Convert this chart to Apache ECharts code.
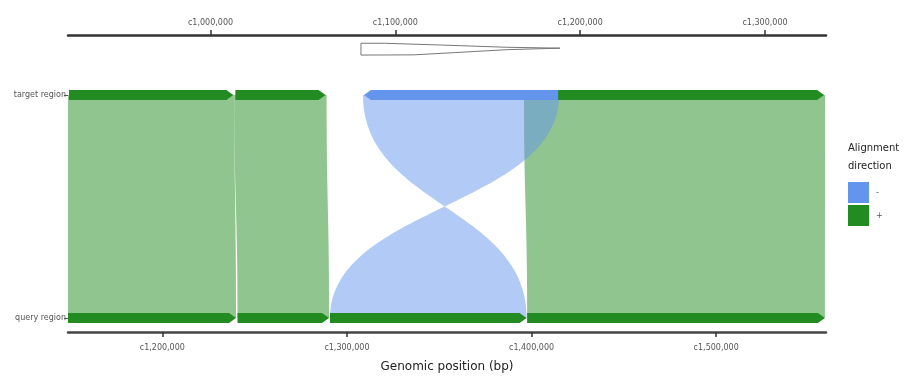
<!DOCTYPE html>
<html>
<head>
<meta charset="utf-8">
<script src="https://cdn.jsdelivr.net/npm/echarts@6/dist/echarts.min.js"></script>
<style>
  html, body { margin: 0; padding: 0; background: #fff; }
  #chart { width: 915px; height: 376px; }
</style>
</head>
<body>
<div id="chart"></div>
<script>
// Alignment blocks between the target and the query region (bp)
const alignTargetStart = [922900, 1012900, 1082500, 1169600];
const alignTargetEnd   = [1012900, 1062800, 1188600, 1332500];
const alignQueryStart  = [1148900, 1240700, 1290800, 1397600];
const alignQueryEnd    = [1239900, 1290300, 1397300, 1558900];
const alignDirection   = ['+', '+', '-', '+'];

// Axis extents and tick positions (bp)
const targetRange = [922900, 1333000];
const queryRange  = [1148900, 1559500];
const targetTicks = [1000000, 1100000, 1200000, 1300000];
const queryTicks  = [1200000, 1300000, 1400000, 1500000];

// Track rows: 0 = query, 1 = target
const rowNames = ['query region', 'target region'];
const directions = ['-', '+'];

// Outline of the inverted-segment glyph above the target track: [bp, track level]
const glyphOutline = [
  [1081400, 1.232], [1094000, 1.232], [1125000, 1.224], [1160000, 1.214],
  [1189100, 1.210], [1160000, 1.203], [1132000, 1.190], [1110000, 1.180],
  [1081400, 1.179]
];

const COLORS = { '+': '#228B22', '-': '#6495ED' };

const chart = echarts.init(document.getElementById('chart'), null, { renderer: 'canvas' });

function fmtBp(v) {
  return 'c' + String(Math.round(v)).replace(/\B(?=(\d{3})+(?!\d))/g, ',');
}

// Map a query coordinate onto the shared horizontal pixel scale of the top axis
function queryAsTarget(q) {
  return targetRange[0] + (q - queryRange[0]) * (targetRange[1] - targetRange[0]) / (queryRange[1] - queryRange[0]);
}

function sCurve(x0, y0, x1, y1, n) {
  const pts = [];
  const ym = (y0 + y1) / 2;
  for (let i = 0; i <= n; i++) {
    const s = i / n, u = 1 - s;
    const a = u * u * u, b = 3 * u * u * s, c = 3 * u * s * s, d = s * s * s;
    pts.push([a * x0 + b * x0 + c * x1 + d * x1, a * y0 + b * ym + c * ym + d * y1]);
  }
  return pts;
}

function alignRows(dir) {
  const rows = [];
  for (let i = 0; i < alignDirection.length; i++) {
    if (alignDirection[i] === dir) {
      rows.push([alignTargetStart[i], alignTargetEnd[i], alignQueryStart[i], alignQueryEnd[i], 1]);
    }
  }
  return rows;
}

function ribbonSeries(dir) {
  return {
    type: 'custom',
    name: dir,
    xAxisIndex: 0,
    yAxisIndex: 0,
    itemStyle: { color: COLORS[dir] },
    encode: { x: [0, 1, 2, 3], y: 4 },
    data: alignRows(dir),
    clip: false,
    renderItem: function (params, api) {
      const tS = api.value(0), tE = api.value(1), qS = api.value(2), qE = api.value(3);
      const T0 = api.coord([tS, 1]), T1 = api.coord([tE, 1]);
      const Q0 = api.coord([queryAsTarget(qS), 0]), Q1 = api.coord([queryAsTarget(qE), 0]);
      let right, left;
      if (dir === '+') {
        right = sCurve(T1[0], T1[1], Q1[0], Q1[1], 60);
        left = sCurve(Q0[0], Q0[1], T0[0], T0[1], 60);
      } else {
        right = sCurve(T1[0], T1[1], Q0[0], Q0[1], 60);
        left = sCurve(Q1[0], Q1[1], T0[0], T0[1], 60);
      }
      return {
        type: 'polygon',
        shape: { points: right.concat(left) },
        style: { fill: COLORS[dir], opacity: 0.5 }
      };
    }
  };
}

function arrowShape(x0, x1, y, pointRight) {
  const h = 5, head = 7;
  if (pointRight) {
    const b = Math.max(x0, x1 - head);
    return [[x0, y - h], [b, y - h], [x1, y], [b, y + h], [x0, y + h]];
  }
  const b = Math.min(x1, x0 + head);
  return [[x0, y], [b, y - h], [x1, y - h], [x1, y + h], [b, y + h]];
}

function targetArrowSeries(dir) {
  return {
    type: 'custom',
    name: dir,
    xAxisIndex: 0,
    yAxisIndex: 0,
    itemStyle: { color: COLORS[dir] },
    encode: { x: [0, 1], y: 4 },
    data: alignRows(dir),
    clip: false,
    renderItem: function (params, api) {
      const p0 = api.coord([api.value(0), 1]);
      const p1 = api.coord([api.value(1), 1]);
      return {
        type: 'polygon',
        shape: { points: arrowShape(p0[0] + 1, p1[0] - 1, p0[1], dir === '+') },
        style: { fill: COLORS[dir] }
      };
    }
  };
}

const queryArrowSeries = {
  type: 'custom',
  name: '+',
  xAxisIndex: 1,
  yAxisIndex: 0,
  itemStyle: { color: COLORS['+'] },
  encode: { x: [0, 1], y: 2 },
  data: alignQueryStart.map((q, i) => [q, alignQueryEnd[i], 0]),
  clip: false,
  renderItem: function (params, api) {
    const p0 = api.coord([api.value(0), 0]);
    const p1 = api.coord([api.value(1), 0]);
    return {
      type: 'polygon',
      shape: { points: arrowShape(p0[0], p1[0], p0[1], true) },
      style: { fill: COLORS['+'] }
    };
  }
};

const glyphSeries = {
  type: 'custom',
  name: 'glyph',
  xAxisIndex: 0,
  yAxisIndex: 0,
  encode: { x: 0, y: 1 },
  data: [[glyphOutline[0][0], glyphOutline[0][1]]],
  clip: false,
  silent: true,
  renderItem: function (params, api) {
    return {
      type: 'polygon',
      shape: { points: glyphOutline.map(p => api.coord(p)) },
      style: { fill: '#ffffff', stroke: '#777777', lineWidth: 1 }
    };
  }
};

const axisFont = { fontFamily: 'DejaVu Sans', fontSize: 8, color: '#555555' };

chart.setOption({
  animation: false,
  backgroundColor: '#ffffff',
  grid: { left: 68, right: 89, top: 35, bottom: 44, containLabel: false, outerBoundsMode: 'none' },
  xAxis: [
    {
      type: 'value',
      position: 'top',
      min: targetRange[0],
      max: targetRange[1],
      splitLine: { show: false },
      axisLine: { show: true, onZero: false, lineStyle: { color: '#333333', width: 2.5 } },
      axisTick: { show: true, length: 5, customValues: targetTicks, lineStyle: { color: '#333333', width: 1.5 } },
      axisLabel: { show: true, customValues: targetTicks, formatter: fmtBp, margin: 8, ...axisFont }
    },
    {
      type: 'value',
      position: 'bottom',
      min: queryRange[0],
      max: queryRange[1],
      splitLine: { show: false },
      axisLine: { show: true, onZero: false, lineStyle: { color: '#444444', width: 2.5 } },
      axisTick: { show: true, length: 5, customValues: queryTicks, lineStyle: { color: '#333333', width: 1.5 } },
      axisLabel: { show: true, customValues: queryTicks, formatter: fmtBp, margin: 12, ...axisFont },
      name: 'Genomic position (bp)',
      nameLocation: 'middle',
      nameGap: 29,
      nameTextStyle: { fontFamily: 'DejaVu Sans', fontSize: 12, color: '#222222' }
    }
  ],
  yAxis: {
    type: 'value',
    min: -0.0628,
    max: 1.269,
    splitLine: { show: false },
    axisLine: { show: false },
    axisTick: { show: true, length: 4, customValues: [0, 1], lineStyle: { color: '#555555' } },
    axisLabel: {
      show: true,
      customValues: [0, 1],
      formatter: v => rowNames[Math.round(v)],
      margin: 2,
      ...axisFont
    }
  },
  legend: {
    orient: 'vertical',
    left: 848,
    top: 182,
    padding: 0,
    itemWidth: 21,
    itemHeight: 21,
    itemGap: 2,
    icon: 'rect',
    selectedMode: false,
    data: directions.map(d => ({ name: d, itemStyle: { color: COLORS[d], opacity: 1 } })),
    textStyle: { fontFamily: 'DejaVu Sans', fontSize: 8, color: '#555555', padding: [0, 0, 0, 2] }
  },
  graphic: [
    {
      type: 'text',
      left: 848,
      top: 139,
      style: {
        text: 'Alignment\ndirection',
        font: '10px "DejaVu Sans"',
        lineHeight: 18,
        fill: '#222222'
      }
    }
  ],
  series: [
    ribbonSeries('+'),
    ribbonSeries('-'),
    targetArrowSeries('+'),
    targetArrowSeries('-'),
    queryArrowSeries,
    glyphSeries
  ]
});
</script>
</body>
</html>
